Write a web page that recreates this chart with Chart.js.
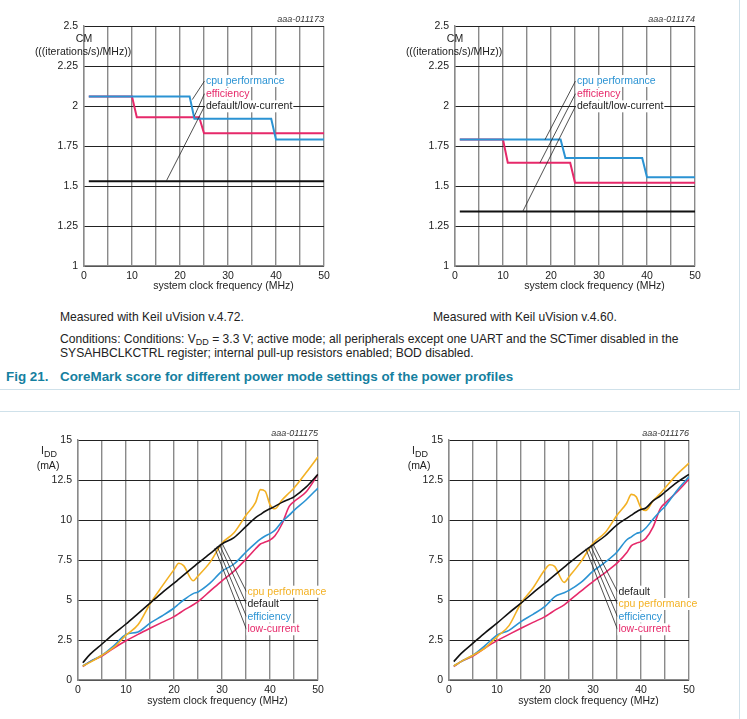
<!DOCTYPE html>
<html>
<head>
<meta charset="utf-8">
<script src="https://cdn.jsdelivr.net/npm/chart.js@4.4.1/dist/chart.umd.min.js"></script>
<style>
  body { margin: 0; width: 747px; height: 719px; position: relative; overflow: hidden; background: #fff;
         font-family: "Liberation Sans", Arial, Helvetica, sans-serif; color: #222; }
  .box { position: absolute; border: 1.5px solid #cfe1ea; }
  canvas { position: absolute; }
  .t { position: absolute; font-size: 12.1px; line-height: 14px; white-space: nowrap; }
  .t sub { font-size: 9px; vertical-align: -2px; line-height: 0; }
  .cap { position: absolute; font-size: 13.4px; font-weight: bold; color: #15809f; white-space: nowrap; line-height: 14px; }
</style>
</head>
<body>
<div class="box" style="left:-3px;top:-3px;width:741px;height:391px"></div>
<div class="box" style="left:-3px;top:411px;width:741px;height:330px"></div>

<canvas id="cm472" width="370" height="300" style="left:0;top:0"></canvas>
<canvas id="cm460" width="370" height="300" style="left:370px;top:0"></canvas>
<canvas id="idd472" width="370" height="319" style="left:0;top:400px"></canvas>
<canvas id="idd460" width="370" height="319" style="left:370px;top:400px"></canvas>

<div class="t" style="left:60px;top:310px">Measured with Keil uVision v.4.72.</div>
<div class="t" style="left:433px;top:310px">Measured with Keil uVision v.4.60.</div>
<div class="t" style="left:60px;top:332px">Conditions: Conditions: V<sub>DD</sub> = 3.3 V; active mode; all peripherals except one UART and the SCTimer disabled in the<br>SYSAHBCLKCTRL register; internal pull-up resistors enabled; BOD disabled.</div>
<div class="cap" style="left:6px;top:370px">Fig 21.</div>
<div class="cap" style="left:60px;top:370px">CoreMark score for different power mode settings of the power profiles</div>

<script>
// axes
const freqTicks = [0, 5, 10, 15, 20, 25, 30, 35, 40, 45, 50];
const freqTickLabels = ['0', '', '10', '', '20', '', '30', '', '40', '', '50'];
const cmTicks = [1, 1.25, 1.5, 1.75, 2, 2.25, 2.5];
const cmTickLabels = ['1', '1.25', '1.5', '1.75', '2', '2.25', '2.5'];
const iddTicks = [0, 2.5, 5, 7.5, 10, 12.5, 15];
const iddTickLabels = ['0', '2.5', '5', '7.5', '10', '12.5', '15'];

// CoreMark, Keil uVision v.4.72
const cm472CpuX = [1, 22, 23, 39, 40, 50];
const cm472CpuY = [2.06, 2.06, 1.92, 1.92, 1.79, 1.79];
const cm472EffX = [1, 10, 11, 24, 25, 50];
const cm472EffY = [2.06, 2.06, 1.93, 1.93, 1.83, 1.83];
const cm472DefX = [1, 50];
const cm472DefY = [1.53, 1.53];

// CoreMark, Keil uVision v.4.60
const cm460CpuX = [1, 22, 23, 39, 40, 50];
const cm460CpuY = [1.79, 1.79, 1.675, 1.675, 1.555, 1.555];
const cm460EffX = [1, 10, 11, 24, 25, 50];
const cm460EffY = [1.79, 1.79, 1.645, 1.645, 1.52, 1.52];
const cm460DefX = [1, 50];
const cm460DefY = [1.34, 1.34];

// IDD (mA) vs frequency
const iddFreq = [1, 2.5, 5, 7.5, 10, 12.5, 15, 17.5, 20, 21, 22, 24, 25, 27.5, 30, 32.5, 35, 37, 38, 39, 40, 41, 42.5, 44, 45, 47.5, 50];
const idd472Def = [1.08, 1.6, 2.25, 2.9, 3.5, 4.15, 4.8, 5.45, 6.05, 6.3, 6.55, 7.05, 7.3, 7.9, 8.5, 8.9, 9.6, 10.15, 10.35, 10.55, 10.7, 10.85, 11.1, 11.3, 11.45, 12.05, 12.85];
const idd472Cpu = [0.875, 1.1, 1.55, 2.05, 2.8, 3.45, 4.75, 5.85, 6.9, 7.3, 7.15, 6.2, 6.5, 7.35, 8.55, 9.2, 10.3, 11.1, 11.9, 11.8, 10.95, 10.7, 11.25, 11.7, 12.0, 12.95, 13.95];
const idd472Eff = [0.875, 1.15, 1.55, 2.15, 2.85, 3.0, 3.55, 4.0, 4.5, 4.75, 5.0, 5.4, 5.5, 6.05, 6.8, 7.25, 8.0, 8.55, 8.8, 9.0, 9.15, 9.35, 9.9, 10.3, 10.6, 11.25, 12.0];
const idd472Low = [0.83, 1.15, 1.5, 2.0, 2.45, 2.85, 3.23, 3.6, 3.96, 4.15, 4.35, 4.7, 4.9, 5.55, 6.2, 6.8, 7.55, 8.2, 8.5, 8.62, 8.75, 9.0, 9.75, 10.85, 11.15, 11.75, 12.85];

const idd460Def = [1.15, 1.65, 2.3, 2.95, 3.55, 4.2, 4.8, 5.45, 6.05, 6.3, 6.55, 7.05, 7.3, 7.9, 8.45, 9.0, 9.7, 10.1, 10.3, 10.5, 10.65, 10.75, 11.2, 11.5, 11.75, 12.35, 12.85];
const idd460Cpu = [0.875, 1.15, 1.55, 2.0, 2.7, 3.4, 4.8, 5.75, 6.9, 7.2, 7.1, 6.1, 6.45, 7.4, 8.55, 9.2, 10.3, 11.05, 11.6, 11.45, 10.75, 10.6, 11.2, 11.65, 12.0, 12.85, 13.55];
const idd460Eff = [0.875, 1.15, 1.55, 2.15, 2.8, 3.1, 3.65, 4.1, 4.6, 4.9, 5.2, 5.45, 5.6, 6.1, 6.8, 7.35, 8.0, 8.75, 8.95, 9.15, 9.25, 9.5, 10.05, 10.55, 10.85, 11.85, 12.7];
const idd460Low = [0.83, 1.15, 1.5, 2.0, 2.46, 2.85, 3.23, 3.6, 3.96, 4.15, 4.35, 4.7, 4.95, 5.55, 6.15, 6.7, 7.3, 7.95, 8.4, 8.55, 8.65, 8.85, 9.55, 10.7, 11.05, 11.75, 12.55];

const FONT = '"Liberation Sans", Arial, Helvetica, sans-serif';
const BLUE = '#2b93d3';
const PINK = '#e6296a';
const YELLOW = '#f3b124';
const BLACK = '#111111';

Chart.defaults.font.family = FONT;
Chart.defaults.font.size = 10.5;
Chart.defaults.color = '#222';

const pts = (xs, ys) => xs.map((x, i) => ({ x: x, y: ys[i] }));

// annotations: leader lines, labels with white box, axis titles, figure ref
const notes = {
    id: 'notes',
    afterDatasetsDraw(chart, args, o) {
        const { ctx, chartArea: a, scales: { x, y } } = chart;
        ctx.save();
        ctx.strokeStyle = '#222';
        ctx.lineWidth = 0.8;
        (o.leaders || []).forEach(l => {
            ctx.beginPath();
            ctx.moveTo(x.getPixelForValue(l[0]), y.getPixelForValue(l[1]));
            ctx.lineTo(x.getPixelForValue(l[2]), y.getPixelForValue(l[3]));
            ctx.stroke();
        });
        ctx.font = '10.5px ' + FONT;
        ctx.textBaseline = 'middle';
        ctx.textAlign = 'left';
        (o.labels || []).forEach(l => {
            const px = x.getPixelForValue(l.x), py = y.getPixelForValue(l.y);
            const w = ctx.measureText(l.text).width;
            ctx.fillStyle = '#fff';
            ctx.fillRect(px - 1, py - 6, w + 2, 12);
            ctx.fillStyle = l.color;
            ctx.fillText(l.text, px, py);
        });
        ctx.restore();
    },
    afterDraw(chart, args, o) {
        const { ctx, chartArea: a } = chart;
        ctx.save();
        ctx.fillStyle = '#222';
        ctx.textBaseline = 'middle';
        ctx.font = '10.5px ' + FONT;
        ctx.textAlign = 'center';
        ctx.fillText('system clock frequency (MHz)', (a.left + a.right) / 2 + 19.5, a.bottom + o.xTitleGap);
        if (o.yTitle === 'cm') {
            ctx.fillText('CM', a.left, a.top + 13);
            ctx.fillText('(((iterations/s)/MHz))', a.left - 1, a.top + 26);
        } else {
            ctx.textAlign = 'left';
            ctx.fillText('I', a.left - 37, a.top + 11);
            const wi = ctx.measureText('I').width;
            ctx.font = '9px ' + FONT;
            ctx.fillText('DD', a.left - 37 + wi, a.top + 15);
            ctx.font = '10.5px ' + FONT;
            ctx.textAlign = 'center';
            ctx.fillText('(mA)', a.left - 30, a.top + 26);
        }
        ctx.font = 'italic 9px ' + FONT;
        ctx.textAlign = 'right';
        ctx.fillStyle = '#333';
        ctx.fillText(o.ref, a.right, a.top - 7);
        ctx.restore();
    }
};

function axes(ticks, tickLabels, min, max) {
    return {
        x: {
            type: 'linear', min: 0, max: 50,
            afterBuildTicks: s => { s.ticks = freqTicks.map(v => ({ value: v })); },
            afterFit: s => { s.height = 20; },
            ticks: { autoSkip: false, maxRotation: 0, padding: 4, callback: (v, i) => freqTickLabels[i] },
            grid: { color: '#8a8a8a', lineWidth: 1.4, drawTicks: false },
            border: { color: '#8a8a8a', width: 1.4 }
        },
        y: {
            type: 'linear', min: min, max: max,
            afterBuildTicks: s => { s.ticks = ticks.map(v => ({ value: v })); },
            afterFit: s => { s.width = 40; },
            ticks: { padding: 6, callback: (v, i) => tickLabels[i] },
            grid: { color: '#222', lineWidth: 1, drawTicks: false },
            border: { color: '#8a8a8a', width: 1.4 }
        }
    };
}

function stepSet(data, color) {
    return { data: data, borderColor: color, borderWidth: 2, pointRadius: 0, tension: 0, fill: false };
}
function curveSet(ys, color) {
    return { data: pts(iddFreq, ys), borderColor: color, borderWidth: 1.6, pointRadius: 0,
             cubicInterpolationMode: 'monotone', fill: false };
}

function makeChart(id, datasets, scales, padding, noteOpts) {
    new Chart(document.getElementById(id), {
        type: 'line',
        data: { datasets: datasets },
        options: {
            responsive: false,
            animation: false,
            layout: { padding: padding },
            scales: scales,
            plugins: { legend: { display: false }, tooltip: { enabled: false }, notes: noteOpts }
        },
        plugins: [notes]
    });
}

const cmLabels = () => [
    { text: 'cpu performance', color: BLUE, x: 25.4, y: 2.156 },
    { text: 'efficiency', color: PINK, x: 25.4, y: 2.077 },
    { text: 'default/low-current', color: '#222', x: 25.4, y: 1.998 }
];

makeChart('cm472', [
    stepSet(pts(cm472CpuX, cm472CpuY), BLUE),
    stepSet(pts(cm472EffX, cm472EffY), PINK),
    stepSet(pts(cm472DefX, cm472DefY), BLACK)
], axes(cmTicks, cmTickLabels, 1, 2.5), { left: 44, right: 46, top: 26, bottom: 14 }, {
    ref: 'aaa-011173', yTitle: 'cm', xTitleGap: 20,
    labels: cmLabels(),
    leaders: [[22.56, 2.04, 25.1, 2.156], [22.98, 1.936, 25.1, 2.077], [17.2, 1.534, 25.1, 1.998]]
});

makeChart('cm460', [
    stepSet(pts(cm460CpuX, cm460CpuY), BLUE),
    stepSet(pts(cm460EffX, cm460EffY), PINK),
    stepSet(pts(cm460DefX, cm460DefY), BLACK)
], axes(cmTicks, cmTickLabels, 1, 2.5), { left: 45, right: 45, top: 26, bottom: 14 }, {
    ref: 'aaa-011174', yTitle: 'cm', xTitleGap: 20,
    labels: cmLabels(),
    leaders: [[18.75, 1.79, 25.1, 2.156], [17.7, 1.645, 25.1, 2.077], [14.1, 1.34, 25.1, 1.998]]
});

makeChart('idd472', [
    curveSet(idd472Def, BLACK),
    curveSet(idd472Cpu, YELLOW),
    curveSet(idd472Eff, BLUE),
    curveSet(idd472Low, PINK)
], axes(iddTicks, iddTickLabels, 0, 15), { left: 38, right: 52, top: 40, bottom: 19 }, {
    ref: 'aaa-011175', yTitle: 'idd', xTitleGap: 21.5,
    labels: [
        { text: 'cpu performance', color: YELLOW, x: 35.3, y: 5.52 },
        { text: 'default', color: '#222', x: 35.3, y: 4.75 },
        { text: 'efficiency', color: BLUE, x: 35.3, y: 3.96 },
        { text: 'low-current', color: PINK, x: 35.3, y: 3.17 }
    ],
    leaders: [[30.0, 8.55, 35.1, 5.52], [29.5, 8.45, 35.1, 4.75], [29.0, 8.35, 35.1, 3.96], [28.5, 8.25, 35.1, 3.17]]
});

makeChart('idd460', [
    curveSet(idd460Def, BLACK),
    curveSet(idd460Cpu, YELLOW),
    curveSet(idd460Eff, BLUE),
    curveSet(idd460Low, PINK)
], axes(iddTicks, iddTickLabels, 0, 15), { left: 39, right: 51, top: 40, bottom: 19 }, {
    ref: 'aaa-011176', yTitle: 'idd', xTitleGap: 21.5,
    labels: [
        { text: 'default', color: '#222', x: 35.3, y: 5.52 },
        { text: 'cpu performance', color: YELLOW, x: 35.3, y: 4.75 },
        { text: 'efficiency', color: BLUE, x: 35.3, y: 3.96 },
        { text: 'low-current', color: PINK, x: 35.3, y: 3.17 }
    ],
    leaders: [[30.0, 8.5, 35.1, 5.52], [29.5, 8.4, 35.1, 4.75], [29.0, 8.3, 35.1, 3.96], [28.5, 8.2, 35.1, 3.17]]
});
</script>
</body>
</html>
